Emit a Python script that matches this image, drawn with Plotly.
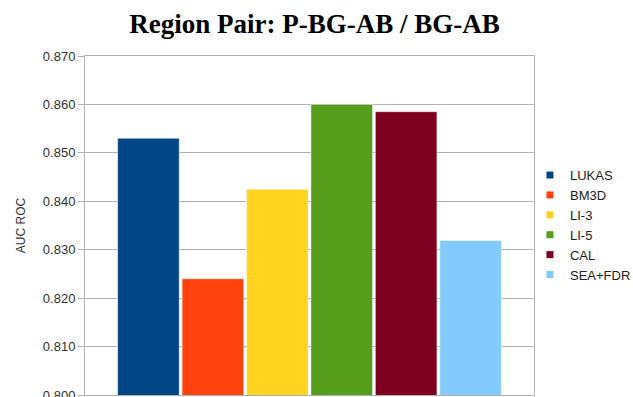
import plotly.graph_objects as go

# AUC ROC per method for the P-BG-AB / BG-AB region pair
methods = ["LUKAS", "BM3D", "LI-3", "LI-5", "CAL", "SEA+FDR"]
auc_roc = [0.8530, 0.8240, 0.8425, 0.8600, 0.8585, 0.8319]
colors = ["#004586", "#ff420e", "#ffd320", "#579d1c", "#7e0021", "#83caff"]
group = "P-BG-AB / BG-AB"
y_ticks = [0.800, 0.810, 0.820, 0.830, 0.840, 0.850, 0.860, 0.870]

fig = go.Figure()

for name, val, col in zip(methods, auc_roc, colors):
    fig.add_trace(go.Bar(
        x=[group], y=[val], name=name, showlegend=False,
        marker=dict(color=col, line=dict(color="rgba(255,255,255,0.45)", width=1)),
    ))

# compact square legend keys
for name, col in zip(methods, colors):
    fig.add_trace(go.Scatter(
        x=[None], y=[None], mode="markers", name=name,
        marker=dict(symbol="square", size=7, color=col),
    ))

fig.update_layout(
    width=633, height=397,
    margin=dict(l=85, r=99, t=56, b=2, autoexpand=False),
    paper_bgcolor="white", plot_bgcolor="white",
    barmode="group", bargap=0.139, bargroupgap=0.045,
    title=dict(
        text="<b>Region Pair: P-BG-AB / BG-AB</b>",
        font=dict(family="Liberation Serif", size=27, color="black"),
        x=0.497, xanchor="center", y=1 - 14 / 397, yanchor="top",
    ),
    legend=dict(
        x=0.991, xanchor="left",
        y=0.693, yanchor="top",
        font=dict(family="Liberation Sans", size=13, color="#222"),
        bgcolor="rgba(0,0,0,0)", tracegroupgap=0,
    ),
    font=dict(family="Liberation Sans", color="#333"),
)

fig.update_xaxes(
    showticklabels=False, ticks="", showgrid=False,
    showline=True, linecolor="#b3b3b3", linewidth=1, mirror=True,
)
fig.update_yaxes(
    range=[0.8, 0.87], tickvals=y_ticks, tickformat=".3f",
    ticks="outside", ticklen=6, tickcolor="#b3b3b3",
    tickfont=dict(family="Liberation Sans", size=13, color="#333"),
    ticklabeloverflow="allow",
    showgrid=True, gridcolor="#b3b3b3", gridwidth=1,
    showline=True, linecolor="#b3b3b3", linewidth=1, mirror=True,
    zeroline=False,
    title=dict(text="AUC ROC", font=dict(family="Liberation Sans", size=12, color="#333"),
               standoff=14),
)

fig.write_html("out.html")
